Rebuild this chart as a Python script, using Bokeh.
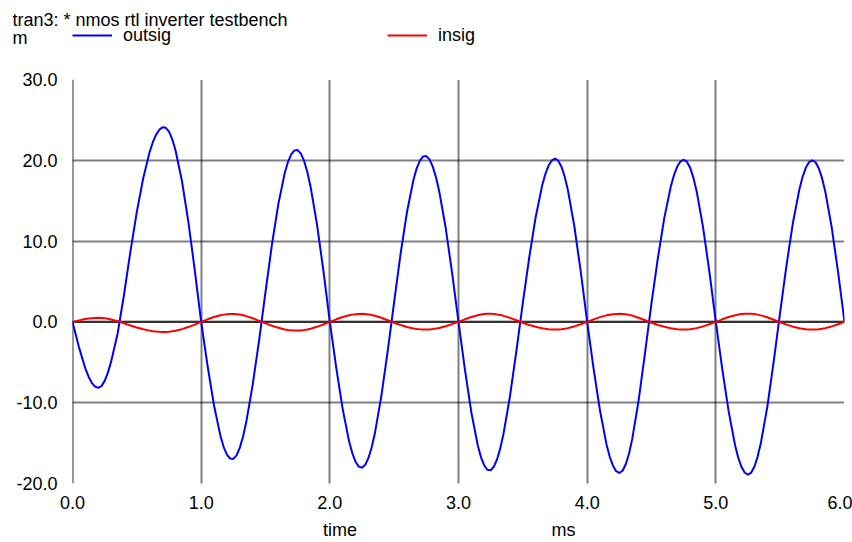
from bokeh.plotting import figure
from bokeh.layouts import column
from bokeh.models import (Range1d, FixedTicker, Span, Label, Legend, LegendItem, LinearAxis,
                          ColumnDataSource, PrintfTickFormatter, CustomJSTickFormatter)
from bokeh.embed import file_html
from bokeh.resources import INLINE

# ---------------- data ----------------
time_ms = [0.0, 0.05, 0.1, 0.125, 0.15, 0.175, 0.2, 0.225, 0.25, 0.275, 0.3, 0.35,
           0.4, 0.45, 0.5, 0.55, 0.6, 0.625, 0.65, 0.675, 0.7, 0.725, 0.75, 0.775, 0.8, 0.85, 0.9, 0.95,
           1.0, 1.05, 1.1, 1.15, 1.175, 1.2, 1.225, 1.25, 1.275, 1.3, 1.325, 1.35, 1.4, 1.45,
           1.5, 1.55, 1.6, 1.65, 1.675, 1.7, 1.725, 1.75, 1.775, 1.8, 1.825, 1.85, 1.9, 1.95,
           2.0, 2.05, 2.1, 2.15, 2.175, 2.2, 2.225, 2.25, 2.275, 2.3, 2.325, 2.35, 2.4, 2.45,
           2.5, 2.55, 2.6, 2.65, 2.675, 2.7, 2.725, 2.75, 2.775, 2.8, 2.825, 2.85, 2.9, 2.95,
           3.0, 3.05, 3.1, 3.15, 3.175, 3.2, 3.225, 3.25, 3.275, 3.3, 3.325, 3.35, 3.4, 3.45,
           3.5, 3.55, 3.6, 3.65, 3.675, 3.7, 3.725, 3.75, 3.775, 3.8, 3.825, 3.85, 3.9, 3.95,
           4.0, 4.05, 4.1, 4.15, 4.175, 4.2, 4.225, 4.25, 4.275, 4.3, 4.325, 4.35, 4.4, 4.45,
           4.5, 4.55, 4.6, 4.65, 4.675, 4.7, 4.725, 4.75, 4.775, 4.8, 4.825, 4.85, 4.9, 4.95,
           5.0, 5.05, 5.1, 5.15, 5.175, 5.2, 5.225, 5.25, 5.275, 5.3, 5.325, 5.35, 5.4, 5.45,
           5.5, 5.55, 5.6, 5.65, 5.675, 5.7, 5.725, 5.75, 5.775, 5.8, 5.825, 5.85, 5.9, 5.95,
           6.0]

outsig = [0.0, -3.12, -5.77, -6.78, -7.54, -8.00, -8.16, -7.95, -7.30, -6.28, -4.92, -1.50,
          3.33, 8.71, 13.62, 17.81, 21.06, 22.27, 23.18, 23.79, 24.08, 24.02, 23.54, 22.63, 21.28, 17.50, 12.43, 6.45,
          0.0, -5.46, -10.35, -14.13, -15.49, -16.42, -16.92, -16.96, -16.52, -15.59, -14.21, -12.43, -7.82, -2.31,
          3.70, 9.56, 14.61, 18.45, 19.81, 20.73, 21.22, 21.26, 20.83, 19.92, 18.55, 16.76, 12.10, 6.33,
          0.0, -5.69, -10.79, -14.80, -16.26, -17.31, -17.91, -18.04, -17.69, -16.84, -15.54, -13.79, -9.21, -3.59,
          2.48, 8.44, 13.63, 17.59, 19.00, 19.96, 20.48, 20.52, 20.11, 19.22, 17.91, 16.18, 11.68, 6.11,
          0.0, -5.91, -11.21, -15.29, -16.76, -17.77, -18.31, -18.36, -17.92, -17.00, -15.62, -13.83, -9.20, -3.59,
          2.35, 8.00, 12.99, 16.87, 18.30, 19.35, 19.98, 20.20, 19.96, 19.21, 18.00, 16.34, 11.87, 6.24,
          0.0, -5.78, -11.00, -15.13, -16.66, -17.78, -18.48, -18.70, -18.42, -17.62, -16.31, -14.51, -9.71, -3.80,
          2.33, 7.95, 12.91, 16.76, 18.18, 19.23, 19.85, 20.07, 19.83, 19.09, 17.88, 16.24, 11.80, 6.20,
          0.0, -5.84, -11.11, -15.29, -16.84, -17.97, -18.67, -18.90, -18.65, -17.90, -16.67, -14.99, -10.51, -4.89,
          1.21, 7.09, 12.34, 16.46, 17.98, 19.10, 19.78, 20.00, 19.76, 19.02, 17.82, 16.18, 11.76, 6.18,
          0.0]

insig = [0.0, 0.19, 0.35, 0.42, 0.46, 0.49, 0.50, 0.49, 0.45, 0.38, 0.30, 0.09,
         -0.17, -0.45, -0.70, -0.92, -1.08, -1.15, -1.19, -1.22, -1.24, -1.24, -1.21, -1.16, -1.09, -0.90, -0.64, -0.33,
         0.0, 0.32, 0.60, 0.82, 0.90, 0.96, 0.99, 0.99, 0.96, 0.91, 0.83, 0.72, 0.46, 0.13,
         -0.19, -0.48, -0.73, -0.93, -1.00, -1.04, -1.07, -1.07, -1.05, -1.00, -0.93, -0.84, -0.61, -0.32,
         0.0, 0.32, 0.60, 0.82, 0.90, 0.96, 0.99, 1.00, 0.98, 0.93, 0.86, 0.76, 0.51, 0.20,
         -0.11, -0.39, -0.63, -0.81, -0.88, -0.92, -0.95, -0.95, -0.93, -0.89, -0.83, -0.75, -0.54, -0.28,
         0.0, 0.32, 0.61, 0.83, 0.91, 0.97, 1.00, 1.00, 0.97, 0.92, 0.85, 0.75, 0.50, 0.20,
         -0.11, -0.38, -0.61, -0.79, -0.86, -0.91, -0.94, -0.95, -0.94, -0.90, -0.85, -0.77, -0.56, -0.29,
         0.0, 0.31, 0.59, 0.81, 0.89, 0.95, 0.99, 1.00, 0.99, 0.94, 0.87, 0.78, 0.52, 0.20,
         -0.11, -0.38, -0.61, -0.79, -0.86, -0.91, -0.94, -0.95, -0.94, -0.90, -0.85, -0.77, -0.56, -0.29,
         0.0, 0.32, 0.60, 0.83, 0.91, 0.97, 1.01, 1.02, 1.01, 0.97, 0.90, 0.81, 0.57, 0.26,
         -0.06, -0.34, -0.59, -0.78, -0.85, -0.91, -0.94, -0.95, -0.94, -0.90, -0.85, -0.77, -0.56, -0.29,
         0.0]

x_ticks = [0, 1, 2, 3, 4, 5, 6]
y_ticks = [-20, -10, 0, 10, 20, 30]
title_text = "tran3: * nmos rtl inverter testbench"
unit_y = "m"
x_label = "time"
unit_x = "ms"
series_names = ["outsig", "insig"]
series_colors = ["#0000ff", "#ff0000"]

FONT = "Liberation Sans"
FS = "18px"
W = 852
TOP_H = 60          # header strip (title + legend row)
MAIN_H = 542 - TOP_H

# ---------------- header strip: title, unit, legend ----------------
top = figure(width=W, height=TOP_H, output_backend="svg", toolbar_location=None,
             x_range=Range1d(0, W), y_range=Range1d(TOP_H, 0),
             x_axis_type=None, y_axis_type=None, min_border=0)
top.frame_align = False
top.outline_line_color = None
top.background_fill_color = "white"
top.border_fill_color = "white"

top.add_layout(Label(x=12, y=19, text=title_text, text_font=FONT, text_font_size=FS,
                     text_color="black", text_baseline="alphabetic"))
top.add_layout(Label(x=12, y=37.5, text=unit_y, text_font=FONT, text_font_size=FS,
                     text_color="black", text_baseline="alphabetic"))

# legend swatch renderers (kept off-screen, they only feed the legend)
k_out = top.line(x=[-20, -10], y=[-20, -20], line_color=series_colors[0], line_width=2)
k_in = top.line(x=[-20, -10], y=[-20, -20], line_color=series_colors[1], line_width=2)
legend = Legend(items=[LegendItem(label=series_names[0], renderers=[k_out]),
                       LegendItem(label=series_names[1], renderers=[k_in])],
                orientation="horizontal", location=(72, TOP_H - 27 - 18.5),
                glyph_width=40, glyph_height=12, label_height=20, label_width=253,
                label_standoff=11, spacing=11, padding=0, margin=0,
                border_line_color=None, background_fill_alpha=0,
                label_text_font=FONT, label_text_font_size=FS, label_text_color="black")
top.add_layout(legend)

# ---------------- main plot ----------------
p = figure(width=W, height=MAIN_H, output_backend="svg", toolbar_location=None,
           x_range=Range1d(0, 6), y_range=Range1d(-20, 30),
           min_border_left=72, min_border_right=8, min_border_top=79 - TOP_H,
           min_border_bottom=58)
p.frame_align = False
p.outline_line_color = None
p.background_fill_color = "white"
p.border_fill_color = "white"

src = ColumnDataSource(dict(t=time_ms, outsig=outsig, insig=insig))

for g, tk in ((p.xgrid, x_ticks), (p.ygrid, y_ticks)):
    g.ticker = FixedTicker(ticks=tk)
    g.grid_line_color = "black"
    g.grid_line_dash = "1 1"
    g.grid_line_width = 2

p.add_layout(Span(location=0, dimension="width", line_color="#333333", line_width=2, level="underlay"))
p.add_layout(Span(location=0, dimension="height", line_color="#333333", line_width=2, level="underlay"))

p.xaxis.ticker = FixedTicker(ticks=x_ticks)
p.yaxis.ticker = FixedTicker(ticks=y_ticks)
p.xaxis.formatter = PrintfTickFormatter(format="%.1f")
p.yaxis.formatter = PrintfTickFormatter(format="%.1f")

# second axis below carrying the x quantity name and its unit
name_axis = LinearAxis(ticker=FixedTicker(ticks=[2.079, 3.816]),
                       formatter=CustomJSTickFormatter(args=dict(names=[x_label, unit_x]),
                                                       code="return tick < 3 ? names[0] : names[1];"))
p.add_layout(name_axis, "below")

for ax in (p.xaxis[0], p.yaxis[0], name_axis):
    ax.axis_line_color = None
    ax.major_tick_line_color = None
    ax.minor_tick_line_color = None
    ax.major_tick_out = 0
    ax.major_tick_in = 0
    ax.minor_tick_out = 0
    ax.minor_tick_in = 0
    ax.major_label_text_font = FONT
    ax.major_label_text_font_size = FS
    ax.major_label_text_color = "black"
p.xaxis[0].major_label_standoff = 12
p.yaxis[0].major_label_standoff = 15
name_axis.major_label_standoff = 8

p.line("t", "outsig", source=src, line_color=series_colors[0], line_width=2, line_join="round")
p.line("t", "insig", source=src, line_color=series_colors[1], line_width=2, line_join="round")

layout = column(top, p, spacing=0)
open("out.html", "w").write(file_html(layout, INLINE))
